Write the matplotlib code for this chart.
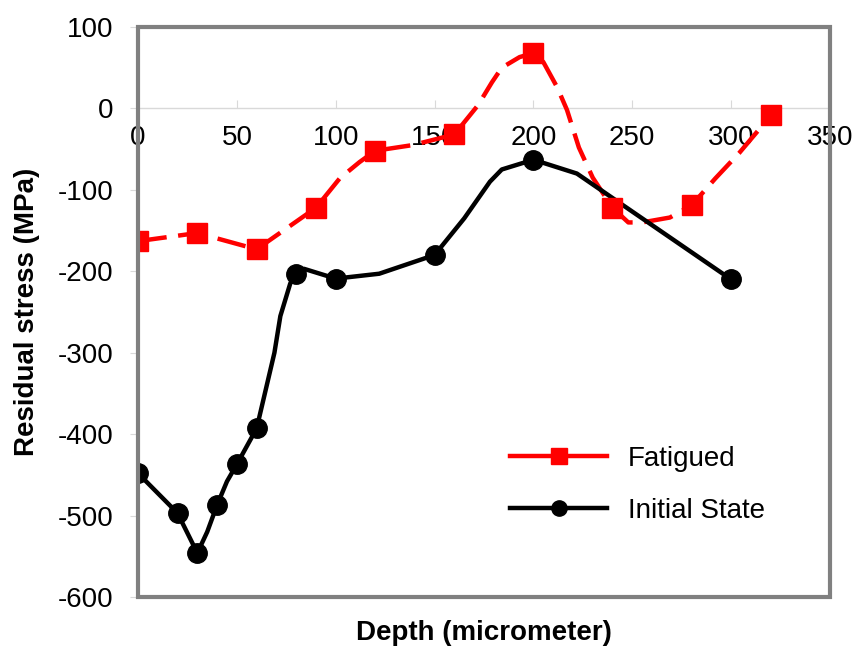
import matplotlib
matplotlib.use("Agg")
import matplotlib.pyplot as plt
from matplotlib.patches import Rectangle

plt.rcParams["font.family"] = ["Liberation Sans", "DejaVu Sans"]
plt.rcParams["axes.unicode_minus"] = False

# measured points (markers)
fatigued_depth = [0, 30, 60, 90, 120, 160, 200, 240, 280, 320]
fatigued_stress = [-163, -153, -173, -122, -52, -32, 68, -122, -118, -8]
initial_depth = [0, 20, 30, 40, 50, 60, 80, 100, 150, 200, 300]
initial_stress = [-448, -497, -546, -487, -437, -393, -203, -210, -180, -63, -210]

# the drawn curves pass through extra unmarked vertices
fatigued_curve_x = [0, 30, 60, 90, 102, 112, 120, 139, 160, 172, 179, 184, 193, 200,
                    205, 212, 217, 223, 230, 240, 248, 255, 269, 280, 292, 304, 320]
fatigued_curve_y = [-163, -153, -173, -122, -86, -66, -52, -45, -32, 4, 32, 50, 63, 68,
                    57, 26, -2, -48, -85, -122, -140, -140, -134, -119, -86, -55, -9]
initial_curve_x = [0, 20, 30, 35, 40, 45, 50, 60, 69, 72, 77, 80, 84, 100, 122, 150,
                   165, 178, 184, 200, 222, 300]
initial_curve_y = [-448, -497, -546, -520, -487, -458, -437, -393, -300, -255, -215, -203,
                   -197, -209, -203, -180, -135, -90, -75, -63, -80, -210]

fig = plt.figure(figsize=(8.53, 6.5), dpi=100)
ax = fig.add_axes([0.1618, 0.0815, 0.8112, 0.877])

red = "#ff0000"
ax.plot(fatigued_curve_x, fatigued_curve_y, color=red, lw=3.2,
        linestyle=(0, (6.5, 2.6)), zorder=3)
ax.plot(fatigued_depth, fatigued_stress, linestyle="none", marker="s",
        ms=14, color=red, zorder=4)
ax.plot(initial_curve_x, initial_curve_y, color="black", lw=3.2, zorder=3,
        solid_joinstyle="round")
ax.plot(initial_depth, initial_stress, linestyle="none", marker="o",
        ms=14, color="black", zorder=4)

# legend proxies
h1, = ax.plot([], [], color=red, lw=3.2, marker="s", ms=11)
h2, = ax.plot([], [], color="black", lw=3.2, marker="o", ms=11)
ax.legend([h1, h2], ["Fatigued", "Initial State"], loc="center left",
          bbox_to_anchor=(0.5376, 0.1965), frameon=False, fontsize=20,
          handlelength=3.5, handletextpad=0.75, labelspacing=0.95,
          borderpad=0, borderaxespad=0)

ax.set_xlim(0, 350)
ax.set_ylim(-600, 100)
ax.set_xticks(range(0, 351, 50))
ax.set_yticks(range(-600, 101, 100))

for side in ["top", "right", "left"]:
    ax.spines[side].set_visible(False)
ax.spines["bottom"].set_position(("data", 0))
ax.spines["bottom"].set_color("#d9d9d9")
ax.spines["bottom"].set_linewidth(1)
ax.add_patch(Rectangle((0, 0), 1, 1, transform=ax.transAxes, fill=False,
                       edgecolor="#808080", lw=3, clip_on=False, zorder=5))

ax.tick_params(axis="x", direction="in", length=6, color="#d9d9d9",
               labelsize=20, pad=12)
ax.tick_params(axis="y", direction="out", length=6, color="#d9d9d9",
               labelsize=20, pad=12)

ax.set_xlabel("Depth (micrometer)", fontsize=20, fontweight="bold", labelpad=0)
ax.xaxis.set_label_coords(0.5, -0.04)
ax.set_ylabel("Residual stress (MPa)", fontsize=20, fontweight="bold")
ax.yaxis.set_label_coords(-0.142, 0.5)

fig.savefig("out.png", dpi=100)
